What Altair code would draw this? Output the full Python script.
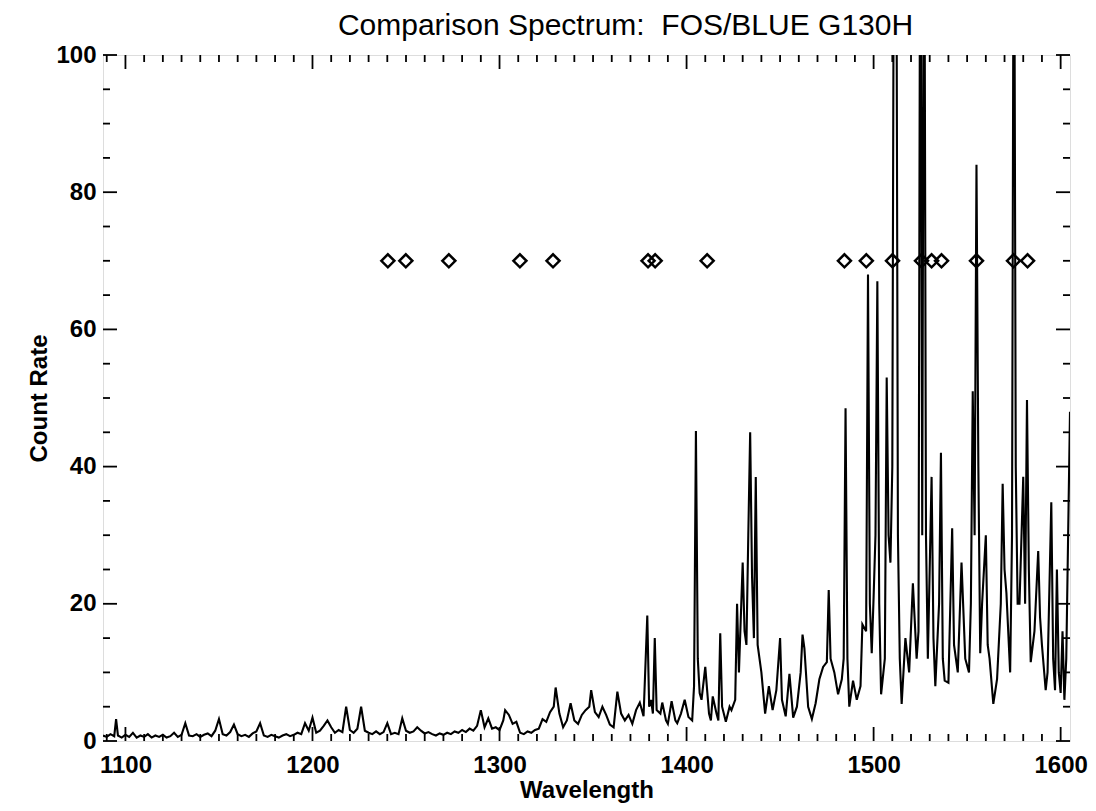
import altair as alt
import pandas as pd

# ---- spectrum (wavelength, count rate) ----
wavelength = [
    1088, 1090, 1092, 1094, 1095, 1096, 1098, 1100, 1102, 1104, 1106, 1108, 1110, 1112, 1114,
    1116, 1118, 1120, 1122, 1124, 1126, 1128, 1130, 1132, 1134, 1136, 1138, 1140, 1142, 1144,
    1146, 1148, 1150, 1152, 1154, 1156, 1158, 1160, 1162, 1164, 1166, 1168, 1170, 1172, 1174,
    1176, 1178, 1180, 1182, 1184, 1186, 1188, 1190, 1192, 1194, 1196, 1198, 1200, 1202, 1204,
    1206, 1208, 1210, 1212, 1214, 1216, 1218, 1220, 1222, 1224, 1226, 1228, 1230, 1232, 1234,
    1236, 1238, 1240, 1242, 1244, 1246, 1248, 1250, 1252, 1254, 1256, 1258, 1260, 1262, 1264,
    1266, 1268, 1270, 1272, 1274, 1276, 1278, 1280, 1282, 1284, 1286, 1288, 1290, 1292, 1294,
    1296, 1298, 1300, 1302, 1303, 1305, 1307, 1309, 1311, 1313, 1315, 1317, 1319, 1321, 1323,
    1325, 1327, 1329, 1330, 1332, 1334, 1336, 1338, 1340, 1342, 1344, 1346, 1348, 1349, 1351,
    1353, 1355, 1357, 1359, 1361, 1363, 1365, 1367, 1369, 1371, 1373, 1375, 1377, 1379, 1380,
    1381, 1382, 1383, 1384, 1386, 1387, 1389, 1390, 1392, 1394, 1395, 1397, 1399, 1401, 1403,
    1404, 1405, 1406, 1407, 1408, 1410, 1412, 1413, 1414, 1416, 1417, 1418, 1419, 1421, 1423,
    1424, 1426, 1427, 1428, 1429, 1430, 1431, 1432, 1433, 1434, 1435, 1436, 1437, 1438, 1440,
    1442, 1444, 1446, 1448, 1450, 1451, 1453, 1455, 1457, 1459, 1461, 1462, 1463, 1465, 1467,
    1469, 1471, 1473, 1475, 1476, 1477, 1479, 1481, 1483, 1484, 1485, 1486, 1487, 1489, 1491,
    1493, 1494, 1496, 1497, 1498, 1499, 1500, 1501, 1502, 1503, 1504, 1506, 1507, 1508, 1509,
    1510, 1511, 1512, 1513, 1514, 1515, 1517, 1519, 1521, 1523, 1524, 1525, 1526, 1527, 1528,
    1529, 1531, 1532, 1533, 1535, 1536, 1537, 1538, 1540, 1542, 1543, 1545, 1547, 1549, 1551,
    1552, 1553, 1554, 1555, 1556, 1557, 1558, 1560, 1561, 1562, 1564, 1566, 1568, 1569, 1570,
    1571, 1573, 1574, 1575, 1576, 1577, 1578, 1580, 1581, 1582, 1583, 1584, 1586, 1588, 1589,
    1590, 1592, 1593, 1595, 1596, 1597, 1598, 1599, 1600, 1601, 1602, 1603, 1604, 1605,
]
count_rate = [
    0.8, 0.6, 1.0, 0.7, 3.2, 0.8, 0.5, 0.9, 0.6, 1.2, 0.5, 0.8, 0.6, 1.0, 0.5,
    0.8, 0.6, 0.9, 0.5, 0.7, 1.2, 0.6, 0.9, 2.6, 0.8, 0.7, 1.0, 0.6, 0.9, 1.1,
    0.7, 1.5, 3.2, 1.0, 0.8, 1.3, 2.4, 1.0, 0.7, 0.9, 0.6, 1.1, 1.4, 2.6, 0.8,
    0.6, 0.9, 0.7, 0.5, 0.8, 1.0, 0.7, 0.9, 1.2, 1.0, 2.6, 1.5, 3.4, 1.2, 1.5,
    2.2, 3.0, 2.0, 1.2, 1.6, 1.3, 5.0, 1.6, 1.2, 1.8, 5.0, 1.5, 1.2, 1.0, 1.4,
    1.0, 1.3, 2.6, 1.0, 1.2, 1.0, 3.3, 1.5, 1.2, 1.4, 2.0, 1.5, 1.1, 1.3, 1.0,
    0.8, 1.1, 0.9, 1.2, 1.0, 1.4, 1.2, 1.6, 1.3, 1.8, 1.5, 2.2, 4.5, 2.0, 3.3,
    1.8, 2.0, 1.6, 3.0, 4.5, 3.8, 2.5, 2.8, 1.2, 1.0, 1.4, 1.2, 1.6, 1.8, 3.2,
    2.8, 4.2, 5.0, 7.8, 4.0, 2.0, 3.0, 5.5, 3.0, 2.5, 3.8, 4.5, 5.0, 7.4, 4.2,
    3.5, 5.0, 3.8, 2.4, 2.0, 7.2, 4.0, 3.0, 3.8, 2.5, 4.5, 5.6, 3.6, 18.3, 5.0,
    6.0, 4.0, 15.0, 4.5, 4.0, 5.6, 3.0, 2.5, 5.8, 3.0, 2.6, 4.0, 6.0, 3.5, 3.0,
    8.0, 45.2, 12.0, 7.0, 6.0, 10.8, 4.0, 3.0, 6.5, 4.0, 3.0, 15.7, 5.0, 2.8, 5.0,
    4.5, 6.0, 20.0, 10.0, 18.0, 26.0, 16.0, 14.0, 30.0, 45.0, 24.0, 15.0, 38.5, 14.0, 10.0,
    4.0, 8.0, 4.5, 7.4, 15.0, 6.0, 3.6, 9.8, 3.4, 5.0, 10.0, 15.5, 13.5, 5.0, 3.2,
    5.5, 9.0, 10.8, 11.5, 22.0, 12.0, 10.0, 6.8, 9.0, 12.0, 48.5, 12.0, 5.0, 8.8, 6.0,
    8.0, 17.0, 16.0, 68.0, 20.0, 12.8, 21.0, 30.0, 67.0, 20.0, 6.8, 12.0, 53.0, 30.0, 26.0,
    40.0, 140.0, 140.0, 30.0, 12.0, 5.4, 15.0, 10.0, 23.0, 12.0, 16.0, 140.0, 30.0, 140.0, 30.0,
    12.0, 38.5, 15.0, 8.0, 20.0, 42.0, 12.0, 8.8, 8.5, 31.0, 14.0, 10.0, 26.0, 12.0, 10.0,
    20.0, 51.0, 30.0, 84.0, 40.0, 12.8, 20.0, 30.0, 14.0, 12.0, 5.4, 9.0, 20.0, 37.5, 25.0,
    21.6, 10.0, 30.0, 140.0, 40.0, 20.0, 20.0, 38.5, 20.0, 49.7, 25.0, 11.5, 16.0, 27.7, 18.0,
    14.0, 7.4, 10.0, 34.8, 12.0, 7.4, 25.0, 10.0, 7.0, 16.0, 6.0, 12.0, 30.0, 48.0,
]

# ---- line-identification diamonds ----
marker_wavelength = [1240.3, 1249.9, 1272.9, 1310.9, 1328.6, 1379.4, 1383.2, 1411.0,
                     1484.4, 1496.1, 1510.1, 1525.6, 1531.0, 1536.3, 1555.0, 1574.8, 1582.3]
marker_level = [70, 70, 70, 70, 70, 70, 70, 70, 70, 70, 70, 70, 70, 70, 70, 70, 70]

# ---- axis ticks ----
x_major = [1100, 1200, 1300, 1400, 1500, 1600]
x_minor = [v for v in range(1090, 1606, 10) if v % 100 != 0]
y_major = [0, 20, 40, 60, 80, 100]
y_minor = [v for v in range(5, 100, 5) if v % 20 != 0]

W, H = 967, 686
FONT = "Liberation Sans"
MAJ, MIN = 14, 7

xscale = alt.Scale(domain=[1088, 1605], nice=False, zero=False)
yscale = alt.Scale(domain=[0, 100], nice=False, zero=False)

spec = pd.DataFrame({"w": wavelength, "c": count_rate})
marks = pd.DataFrame({"w": marker_wavelength, "c": marker_level})

xaxis = alt.Axis(values=x_major, format="d", ticks=False, tickSize=0, domain=False, grid=False,
                 labelFont=FONT, labelFontSize=24, labelFontWeight="bold", labelColor="black",
                 labelPadding=12, title="Wavelength", titleFont=FONT, titleFontSize=24,
                 titleFontWeight="bold", titleColor="black", titlePadding=1)
yaxis = alt.Axis(values=y_major, format="d", ticks=False, tickSize=0, domain=False, grid=False,
                 labelFont=FONT, labelFontSize=24, labelFontWeight="bold", labelColor="black",
                 labelPadding=7, title="Count Rate", titleFont=FONT, titleFontSize=24,
                 titleFontWeight="bold", titleColor="black", titlePadding=4)

line = alt.Chart(spec).mark_line(color="black", strokeWidth=2.1, clip=True).encode(
    x=alt.X("w:Q", scale=xscale, axis=xaxis),
    y=alt.Y("c:Q", scale=yscale, axis=yaxis),
)

diamonds = alt.Chart(marks).mark_point(shape="diamond", filled=False, color="black",
                                       size=170, strokeWidth=2.5, opacity=1).encode(
    x=alt.X("w:Q", scale=xscale),
    y=alt.Y("c:Q", scale=yscale),
)


def xticks(vals, length):
    df = pd.DataFrame({"w": vals})
    bottom = alt.Chart(df).mark_rule(color="black", strokeWidth=1.8).encode(
        x=alt.X("w:Q", scale=xscale), y=alt.value(H), y2=alt.value(H - length))
    top = alt.Chart(df).mark_rule(color="black", strokeWidth=1.8).encode(
        x=alt.X("w:Q", scale=xscale), y=alt.value(0), y2=alt.value(length))
    return [bottom, top]


def yticks(vals, length):
    df = pd.DataFrame({"c": vals})
    left = alt.Chart(df).mark_rule(color="black", strokeWidth=1.8).encode(
        y=alt.Y("c:Q", scale=yscale), x=alt.value(0), x2=alt.value(length))
    right = alt.Chart(df).mark_rule(color="black", strokeWidth=1.8).encode(
        y=alt.Y("c:Q", scale=yscale), x=alt.value(W), x2=alt.value(W - length))
    return [left, right]


layers = [line, diamonds] + xticks(x_major, MAJ) + xticks(x_minor, MIN) \
    + yticks(y_major, MAJ) + yticks(y_minor, MIN)

chart = alt.layer(*layers).properties(
    width=W, height=H,
    title=alt.TitleParams("Comparison Spectrum:\u00a0 FOS/BLUE G130H", font=FONT, fontSize=30,
                          fontWeight="normal", color="black", anchor="middle", dx=39, offset=2),
    autosize=alt.AutoSizeParams(type="none"),
    padding={"left": 95, "top": 47, "right": 18, "bottom": 62},
).configure_view(stroke="black", strokeWidth=2.2).configure(background="white")

chart.save("out.html", embed_options={"renderer": "svg", "actions": False})
